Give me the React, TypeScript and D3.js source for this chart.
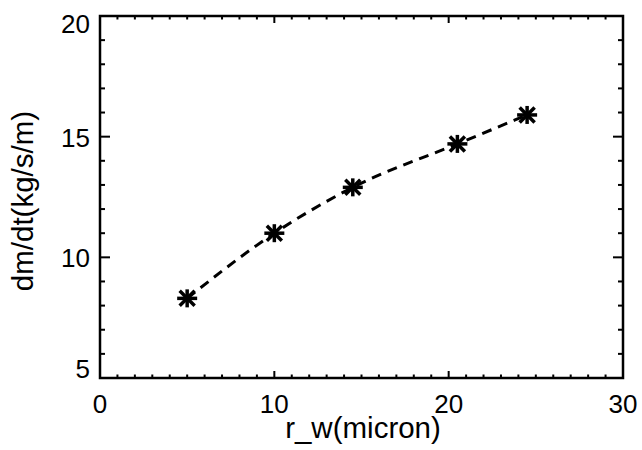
import React from "react";
import * as d3 from "d3";

const radius = [5, 10, 14.5, 20.5, 24.5];
const dmdt = [8.3, 11.0, 12.9, 14.7, 15.9];
const xTicks = [0, 10, 20, 30];
const yTicks = [5, 10, 15, 20];
const xTitle = "r_w(micron)";
const yTitle = "dm/dt(kg/s/m)";

const W = 642;
const H = 450;
const L = 100, R = 623, T = 16, B = 378;

export default function App() {
  const x = d3.scaleLinear().domain([0, 30]).range([L, R]);
  const y = d3.scaleLinear().domain([5, 20]).range([B, T]);
  const xMinor = d3.range(0, 31, 1);
  const yMinor = d3.range(5, 21, 1);
  const line = d3
    .line<number>()
    .x((_, i) => x(radius[i]))
    .y((d) => y(d))
    .curve(d3.curveMonotoneX);

  const yLabelBase = (v: number) => {
    if (v === 20) return y(v) + 17;
    if (v === 5) return y(v);
    return y(v) + 10;
  };

  return (
    <svg
      width={W}
      height={H}
      style={{ position: "absolute", left: 0, top: 0, background: "#fff" }}
      fontFamily="'Liberation Sans', Arial, Helvetica, sans-serif"
    >
      <rect x={0} y={0} width={W} height={H} fill="#fff" />
      {xMinor.map((v) => {
        const major = v % 10 === 0;
        const len = major ? 7 : 3.5;
        return (
          <g key={"x" + v} stroke="#000" strokeWidth={2}>
            <line x1={x(v)} x2={x(v)} y1={B} y2={B - len} />
            <line x1={x(v)} x2={x(v)} y1={T} y2={T + len} />
          </g>
        );
      })}
      {yMinor.map((v) => {
        const major = v % 5 === 0;
        const len = major ? 10 : 5;
        return (
          <g key={"y" + v} stroke="#000" strokeWidth={2}>
            <line x1={L} x2={L + len} y1={y(v)} y2={y(v)} />
            <line x1={R} x2={R - len} y1={y(v)} y2={y(v)} />
          </g>
        );
      })}
      <rect
        x={L}
        y={T}
        width={R - L}
        height={B - T}
        fill="none"
        stroke="#000"
        strokeWidth={2.5}
      />
      {xTicks.map((v) => (
        <text
          key={"xl" + v}
          x={x(v)}
          y={413}
          textAnchor="middle"
          fontSize={26}
          fill="#000"
        >
          {v}
        </text>
      ))}
      {yTicks.map((v) => (
        <text
          key={"yl" + v}
          x={90}
          y={yLabelBase(v)}
          textAnchor="end"
          fontSize={26}
          fill="#000"
        >
          {v}
        </text>
      ))}
      <text x={363} y={438} textAnchor="middle" fontSize={29.5} fill="#000">
        {xTitle}
      </text>
      <text
        transform={`translate(33,${(T + B) / 2 + 4}) rotate(-90)`}
        textAnchor="middle"
        fontSize={29.5}
        fill="#000"
      >
        {yTitle}
      </text>
      <path
        d={line(dmdt) || ""}
        fill="none"
        stroke="#000"
        strokeWidth={3}
        strokeDasharray="10 7"
      />
      {dmdt.map((v, i) => {
        const cx = x(radius[i]);
        const cy = y(v);
        return (
          <g key={"m" + i} stroke="#000" strokeWidth={3.5} strokeLinecap="butt">
            <line x1={cx - 10} x2={cx + 10} y1={cy} y2={cy} />
            <line x1={cx} x2={cx} y1={cy - 9} y2={cy + 9} />
            <line x1={cx - 7.5} x2={cx + 7.5} y1={cy - 7.5} y2={cy + 7.5} />
            <line x1={cx - 7.5} x2={cx + 7.5} y1={cy + 7.5} y2={cy - 7.5} />
          </g>
        );
      })}
    </svg>
  );
}
